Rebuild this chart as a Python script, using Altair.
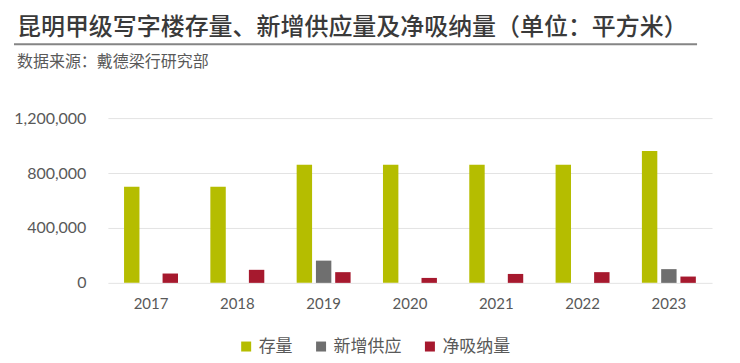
import altair as alt
import pandas as pd

years = ["2017", "2018", "2019", "2020", "2021", "2022", "2023"]
stock = [700000, 700000, 860000, 860000, 860000, 860000, 960000]
new_supply = [0, 0, 162000, 0, 0, 0, 100000]
net_absorption = [68000, 95000, 78000, 36000, 65000, 78000, 46000]
series = ["存量", "新增供应", "净吸纳量"]
colors = ["#B5BD00", "#6F6F6F", "#A6192E"]
y_ticks = [0, 400000, 800000, 1200000]

rows = []
for i, y in enumerate(years):
    for s, vals in zip(series, [stock, new_supply, net_absorption]):
        rows.append({"year": y, "series": s, "value": vals[i]})
df = pd.DataFrame(rows)

FONT = "Lato, Noto Sans CJK SC"
CJK = "Noto Sans CJK SC"

bars = alt.Chart(df).mark_bar().encode(
    x=alt.X("year:N", sort=years, title=None,
            scale=alt.Scale(paddingInner=0.375, paddingOuter=0.1875),
            axis=alt.Axis(labelAngle=0, ticks=False, domain=False, labelPadding=14,
                          labelFontSize=15, labelColor="#595959", labelFont=FONT)),
    xOffset=alt.XOffset("series:N", sort=series,
                        scale=alt.Scale(paddingInner=0.2, paddingOuter=0)),
    y=alt.Y("value:Q", title=None,
            scale=alt.Scale(domain=[0, 1200000], nice=False),
            axis=alt.Axis(values=y_ticks, format=",d", ticks=False, domain=False,
                          labelPadding=22, labelFontSize=16, labelColor="#595959",
                          labelFont=FONT, gridColor="#E3E3E3", gridWidth=1)),
    color=alt.Color("series:N", sort=series,
                    scale=alt.Scale(domain=series, range=colors),
                    legend=alt.Legend(orient="none", legendX=130, legendY=220,
                                      direction="horizontal", title=None,
                                      symbolType="square", symbolSize=100,
                                      symbolStrokeWidth=0, labelFontSize=17,
                                      labelFont=CJK, labelColor="#595959",
                                      labelOffset=4, columnPadding=20)),
)

rule = alt.Chart(pd.DataFrame({"a": [0]})).mark_rule(color="#858585", strokeWidth=2).encode(
    x=alt.value(-94), x2=alt.value(590), y=alt.value(-74)
)

chart = alt.layer(bars, rule).properties(
    width=605, height=165,
    autosize=alt.AutoSizeParams(type="none"),
    padding={"left": 100, "top": 110, "right": 20, "bottom": 80},
    title=alt.TitleParams(
        text="昆明甲级写字楼存量、新增供应量及净吸纳量（单位：平方米）",
        subtitle="数据来源：戴德梁行研究部",
        anchor="start", frame="group", dx=-91, offset=0, dy=27,
        font=CJK, fontSize=24, fontWeight=500, color="#3A3A3A",
        subtitleFont=CJK, subtitleFontSize=16, subtitleColor="#595959",
        subtitlePadding=14,
    ),
).configure_view(stroke=None)

chart.save("out.html", embed_options={"renderer": "svg", "actions": False})
